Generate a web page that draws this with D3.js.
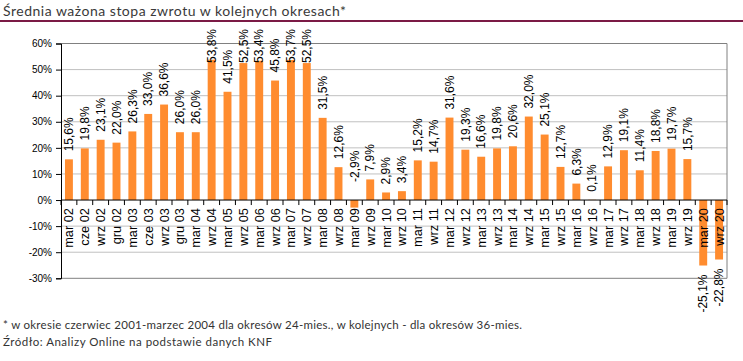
<!DOCTYPE html>
<html><head><meta charset="utf-8">
<script src="https://cdn.jsdelivr.net/npm/d3@7"></script>
<style>
body{margin:0;background:#fff;}
svg{display:block;}
</style></head>
<body>
<svg id="c" width="743" height="361"></svg>
<script>
const categories = ["mar 02","cze 02","wrz 02","gru 02","mar 03","cze 03","wrz 03","gru 03","mar 04","wrz 04","mar 05","wrz 05","mar 06","wrz 06","mar 07","wrz 07","mar 08","wrz 08","mar 09","wrz 09","mar 10","wrz 10","mar 11","wrz 11","mar 12","wrz 12","mar 13","wrz 13","mar 14","wrz 14","mar 15","wrz 15","mar 16","wrz 16","mar 17","wrz 17","mar 18","wrz 18","mar 19","wrz 19","mar 20","wrz 20"];
const values = [15.6,19.8,23.1,22.0,26.3,33.0,36.6,26.0,26.0,53.8,41.5,52.5,53.4,45.8,53.7,52.5,31.5,12.6,-2.9,7.9,2.9,3.4,15.2,14.7,31.6,19.3,16.6,19.8,20.6,32.0,25.1,12.7,6.3,0.1,12.9,19.1,11.4,18.8,19.7,15.7,-25.1,-22.8];
const yTicks = [-30,-20,-10,0,10,20,30,40,50,60];
const title = "Średnia ważona stopa zwrotu w kolejnych okresach*";
const notes = ["* w okresie czerwiec 2001-marzec 2004 dla okresów 24-mies., w kolejnych - dla okresów 36-mies.",
               "Źródło: Analizy Online na podstawie danych KNF"];

const svg = d3.select("#c");
const L = 61, R = 727, T = 43.5, B = 278.3;
const x = d3.scaleBand().domain(categories).range([L, R]).paddingInner(0.5).paddingOuter(0.25);
const y = d3.scaleLinear().domain([-30, 60]).range([B, T]);
const fmt = v => v.toFixed(1).replace(".", ",") + "%";

// title
svg.append("text").attr("x", 3).attr("y", 16).attr("font-family", "Lato, sans-serif")
  .attr("font-size", 14).attr("fill", "#3a3a3a").attr("textLength", 343).attr("lengthAdjust", "spacing").text(title);
svg.append("line").attr("x1", 0).attr("x2", 743).attr("y1", 21).attr("y2", 21)
  .attr("stroke", "#7b1a45").attr("stroke-width", 2);

// gridlines
svg.append("g").selectAll("line").data(yTicks.filter(t => t !== 0 && t !== 60 && t !== -30)).join("line")
  .attr("x1", L).attr("x2", R).attr("y1", d => y(d)).attr("y2", d => y(d))
  .attr("stroke", "#c0c0c0").attr("stroke-width", 1);
// border
svg.append("path").attr("d", `M${L},${y(60)}H${R}V${y(-30)}H${L}`).attr("fill", "none")
  .attr("stroke", "#808080").attr("stroke-width", 1);

// bars
svg.append("g").selectAll("rect").data(values).join("rect")
  .attr("x", (d, i) => x(categories[i])).attr("width", x.bandwidth())
  .attr("y", d => y(Math.max(0, d))).attr("height", d => Math.abs(y(d) - y(0)))
  .attr("fill", "#ff8c2f");

// y axis
const yAxis = d3.axisLeft(y).tickValues(yTicks).tickSize(5).tickPadding(4).tickFormat(d => d + "%");
const gy = svg.append("g").attr("transform", `translate(${L},0)`).call(yAxis);
gy.select(".domain").attr("stroke", "#000");
gy.selectAll(".tick line").attr("stroke", "#000");
gy.selectAll(".tick text").attr("font-family", "Liberation Sans, Arial, sans-serif").attr("font-size", 10).attr("fill", "#000");

// x axis at zero
const y0 = y(0);
svg.append("line").attr("x1", L).attr("x2", R).attr("y1", y0).attr("y2", y0).attr("stroke", "#000");
const step = x.step();
svg.append("g").selectAll("line").data(d3.range(categories.length + 1)).join("line")
  .attr("x1", i => L + i * step).attr("x2", i => L + i * step)
  .attr("y1", y0).attr("y2", y0 + 5).attr("stroke", "#000");
svg.append("g").selectAll("text").data(categories).join("text")
  .attr("transform", d => `translate(${x(d) + x.bandwidth() / 2},${y0 + 8}) rotate(-90)`)
  .attr("text-anchor", "end").attr("dy", "0.35em")
  .attr("font-family", "Liberation Sans, Arial, sans-serif").attr("font-size", 12.8).attr("fill", "#000")
  .text(d => d);

// data labels
const lg = svg.append("g");
values.forEach((v, i) => {
  const cx = x(categories[i]) + x.bandwidth() / 2;
  const t = lg.append("text").attr("font-family", "Liberation Sans, Arial, sans-serif")
    .attr("font-size", 12).attr("fill", "#000").attr("dy", "0.35em").text(fmt(v));
  const len = t.node().getComputedTextLength();
  let bottom;
  if (v >= 0) {
    bottom = y(v) - 8;
    if (bottom - len < 29) bottom = 29 + len;
  } else if (v > -10) {
    bottom = y0 - 18;
  } else {
    bottom = y(v) + 9 + len;
  }
  t.attr("transform", `translate(${cx},${bottom}) rotate(-90)`);
});

// notes
notes.forEach((n, i) => {
  svg.append("text").attr("x", 3).attr("y", 329 + i * 16.5).attr("font-family", "Lato, sans-serif")
    .attr("font-size", 11.5).attr("fill", "#333").attr("textLength", i === 0 ? 519 : 269).attr("lengthAdjust", "spacing").text(n);
});
</script>
</body></html>
